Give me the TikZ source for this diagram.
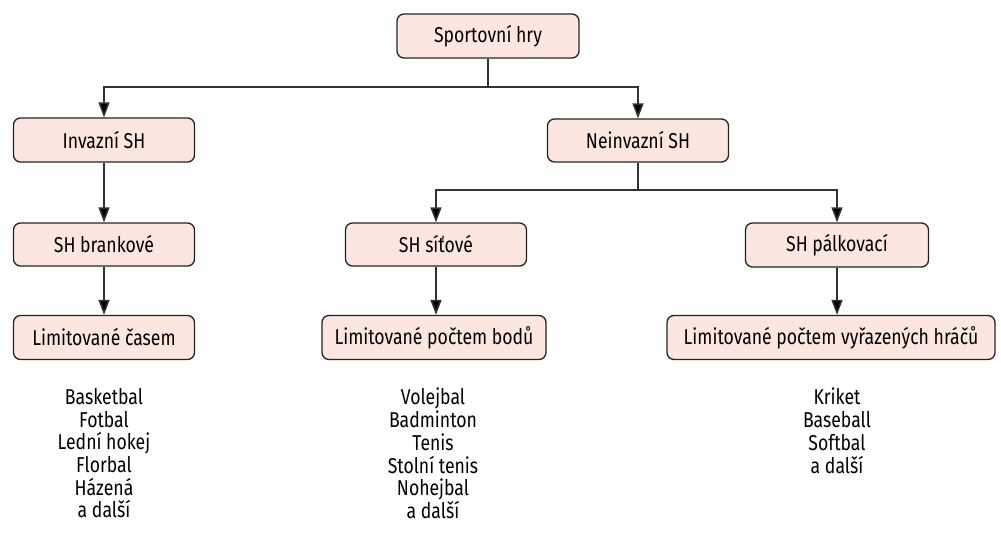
\documentclass[tikz,border=0pt]{standalone}
\usepackage{fontspec}
\setmainfont[FakeStretch=0.82]{Fira Sans}
\usetikzlibrary{arrows.meta}
\definecolor{boxfill}{RGB}{252,230,224}
\definecolor{boxline}{RGB}{35,35,35}
\definecolor{linecol}{RGB}{50,50,50}
\tikzset{
  catbox/.style={draw=boxline, line width=1.3pt, fill=boxfill, rounded corners=7pt, inner sep=0pt, font=\fontsize{21.5}{24}\selectfont},
  conn/.style={draw=linecol, line width=1.6pt},
  arr/.style={conn, -{Triangle[length=15pt,width=11pt,fill=black]}},
  listtext/.style={align=center, font=\fontsize{21.5}{22.7}\selectfont, inner sep=0pt, anchor=north}
}
\begin{document}
\begin{tikzpicture}[x=1pt,y=-1pt]
\useasboundingbox (0,0) rectangle (1001,552);
\node[catbox, minimum width=182pt, minimum height=44pt] (root) at (488,36) {Sportovní hry};
\node[catbox, minimum width=181pt, minimum height=44pt] (inv) at (104,140) {Invazní SH};
\node[catbox, minimum width=181pt, minimum height=43pt] (ninv) at (638,140.5) {Neinvazní SH};
\node[catbox, minimum width=181pt, minimum height=43pt] (bran) at (104,244.5) {SH brankové};
\node[catbox, minimum width=181pt, minimum height=43pt] (sit) at (436,244.5) {SH síťové};
\node[catbox, minimum width=183pt, minimum height=44pt] (palk) at (837,245) {SH pálkovací};
\node[catbox, minimum width=181pt, minimum height=44pt] (cas) at (104,337.5) {Limitované časem};
\node[catbox, minimum width=224pt, minimum height=44pt] (body) at (434,337.5) {Limitované počtem bodů};
\node[catbox, minimum width=328pt, minimum height=44pt] (vyr) at (831,337.5) {Limitované počtem vyřazených hráčů};
\coordinate (j1) at (488,87);
\coordinate (j2) at (638,190);
\draw[conn] (root.south) -- (j1);
\draw[arr] (j1) -| (inv.north);
\draw[arr] (j1) -| (ninv.north);
\draw[conn] (ninv.south) -- (j2);
\draw[arr] (j2) -| (sit.north);
\draw[arr] (j2) -| (palk.north);
\draw[arr] (inv.south) -- (bran.north);
\draw[arr] (bran.south) -- (cas.north);
\draw[arr] (sit.south) -- (sit.south |- body.north);
\draw[arr] (palk.south) -- (palk.south |- vyr.north);
\node[listtext] (l1) at (104,388) {Basketbal\\Fotbal\\Lední hokej\\Florbal\\Házená\\a další};
\node[listtext] (l2) at (433,388) {Volejbal\\Badminton\\Tenis\\Stolní tenis\\Nohejbal\\a další};
\node[listtext] (l3) at (837,388) {Kriket\\Baseball\\Softbal\\a další};
\end{tikzpicture}
\end{document}
